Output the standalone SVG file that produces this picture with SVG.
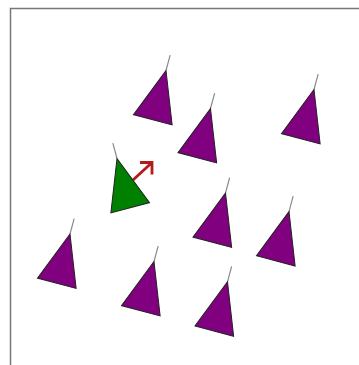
<svg xmlns="http://www.w3.org/2000/svg" width="359" height="365" viewBox="0 0 359 365">
<style>
.tail{stroke:#8a8a8a;stroke-width:1.2;fill:none}
.body{stroke:#222;stroke-width:1;stroke-linejoin:miter}
.purple{fill:#800080}
.green{fill:#008000}
.frame{stroke:#777;stroke-width:1.5;fill:none}
.arrow{stroke:#b51a1a;stroke-width:2.8;fill:none;stroke-linecap:butt}
</style>
<defs>
<g id="boid">
<line class="tail" x1="0" y1="0" x2="0" y2="-16"/>
<polygon class="body" points="0,0 -20,51 20,51"/>
</g>
</defs>
<path class="frame" d="M10.5,365 V8.5 H359"/>
<g id="agent1" class="purple"><use href="#boid" transform="translate(166,70.5) rotate(15)"/></g>
<g id="agent2" class="purple"><use href="#boid" transform="translate(210.5,108.5) rotate(15)"/></g>
<g id="agent3" class="purple"><use href="#boid" transform="translate(314,89.5) rotate(15)"/></g>
<g id="agent4" class="purple"><use href="#boid" transform="translate(70,234) rotate(15)"/></g>
<g id="agent5" class="purple"><use href="#boid" transform="translate(154,261.5) rotate(15)"/></g>
<g id="agent6" class="purple"><use href="#boid" transform="translate(225.5,193) rotate(15)"/></g>
<g id="agent7" class="purple"><use href="#boid" transform="translate(289,211.6) rotate(15)"/></g>
<g id="agent8" class="purple"><use href="#boid" transform="translate(227.5,281.8) rotate(15)"/></g>
<g id="connectors">
<path class="arrow" d="M133,180 L152,162.5 M140,162.5 H152 V174.5"/>
</g>
<g id="leader" class="green"><use href="#boid" transform="translate(117,158.5) rotate(-15)"/></g>
</svg>
